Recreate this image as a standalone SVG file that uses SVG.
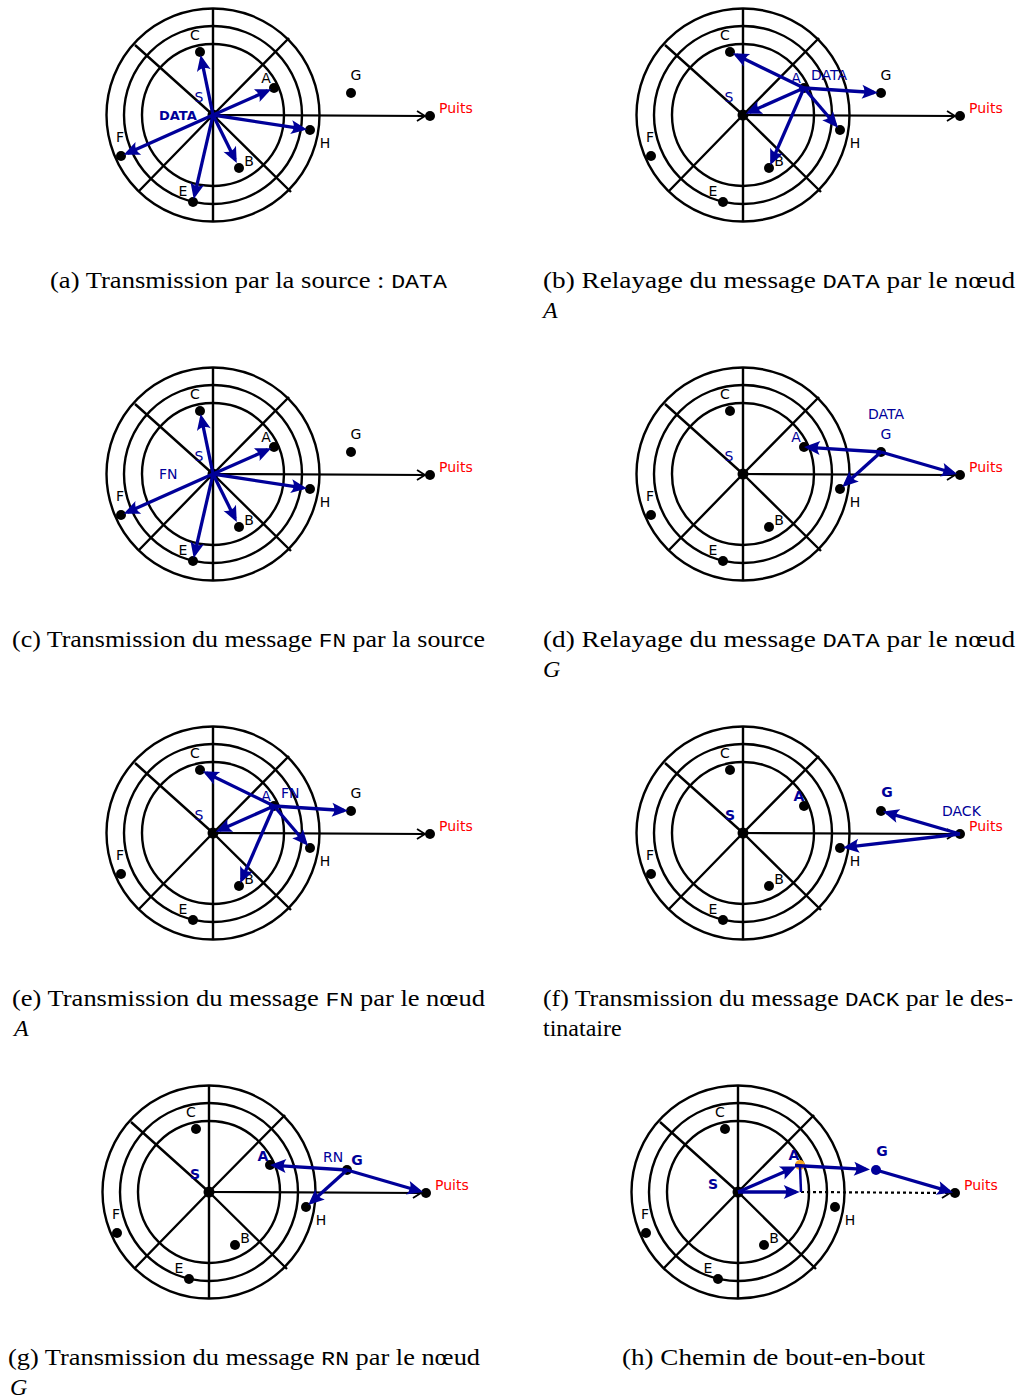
<svg xmlns="http://www.w3.org/2000/svg" xmlns:xlink="http://www.w3.org/1999/xlink" width="1020" height="1399" viewBox="0 0 1020 1399">
<style>
.ring{fill:none;stroke:#000;stroke-width:2.4}
.hl{stroke:#000;stroke-width:2.2;fill:none;marker-end:url(#chev)}
.dl{stroke:#000;stroke-width:2.2;fill:none;stroke-dasharray:3 3;marker-end:url(#chev)}
.dot{fill:#000}
.e{stroke:#000099;stroke-width:3.3;fill:none;marker-end:url(#ah)}
.ep{stroke:#000099;stroke-width:2.5;fill:none}
.l{font-family:"DejaVu Sans",sans-serif;font-size:14px;fill:#000;text-anchor:middle}
.bl{fill:#000099}
.bd{font-weight:bold}
.st{text-anchor:start}
.pu{fill:#ff0000;text-anchor:start}
.cap{font-family:"Liberation Serif",serif;font-size:24px;fill:#000}
.tt{font-family:"Liberation Mono",monospace;font-size:21px}
.it{font-style:italic}
</style>
<defs>
<marker id="ah" viewBox="-14 -8 19 16" refX="0" refY="0" markerWidth="19" markerHeight="16" markerUnits="userSpaceOnUse" orient="auto" overflow="visible">
<path d="M4,0 L-12,-7 Q-7,0 -12,7 Z" fill="#000099"/>
</marker>
<marker id="chev" viewBox="-10 -7 11 14" refX="0" refY="0" markerWidth="11" markerHeight="14" markerUnits="userSpaceOnUse" orient="auto" overflow="visible">
<path d="M-8,-5 L0,0 L-8,5" fill="none" stroke="#000" stroke-width="1.8"/>
</marker>
<g id="grid">
<circle class="ring" r="71"/>
<circle class="ring" r="89"/>
<circle class="ring" r="106.5"/>
<path class="ring" d="M0,-106.5V107M0,0L76,-77M0,0L-78,-70M0,0L-74,76M0,0L78,77"/>
</g>
</defs>

<!-- (a) -->
<g id="panel-a" transform="translate(213,115)">
<use xlink:href="#grid"/>
<line class="hl" x1="0" y1="0" x2="212" y2="1"/>
<g id="a-S"><circle class="dot" r="5.5"/><text class="l bl" x="-14" y="-13">S</text><text class="l bl bd st" x="-54" y="5" style="font-size:13px">DATA</text></g>
<g id="a-C"><circle class="dot" cx="-13" cy="-63" r="5"/><text class="l" x="-18" y="-75">C</text></g>
<g id="a-A"><circle class="dot" cx="61" cy="-27" r="5"/><text class="l" x="53" y="-32">A</text></g>
<g id="a-G"><circle class="dot" cx="138" cy="-22" r="5"/><text class="l" x="143" y="-35">G</text></g>
<g id="a-H"><circle class="dot" cx="97" cy="15" r="5"/><text class="l" x="112" y="33">H</text></g>
<g id="a-B"><circle class="dot" cx="26" cy="53" r="5"/><text class="l" x="36" y="51">B</text></g>
<g id="a-E"><circle class="dot" cx="-20" cy="87" r="5"/><text class="l" x="-30" y="81">E</text></g>
<g id="a-F"><circle class="dot" cx="-92" cy="41" r="5"/><text class="l" x="-93" y="27">F</text></g>
<g id="a-P"><circle class="dot" cx="217" cy="1" r="5"/><text class="l pu" x="226" y="-2">Puits</text></g>
<g id="a-edges">
<line class="e" x1="0" y1="0" x2="-11.6" y2="-56.1"/>
<line class="e" x1="0" y1="0" x2="54.6" y2="-24.2"/>
<line class="e" x1="0" y1="0" x2="90.1" y2="13.9"/>
<line class="e" x1="0" y1="0" x2="22" y2="44.5"/>
<line class="e" x1="0" y1="0" x2="-18.4" y2="80.2"/>
<line class="e" x1="0" y1="0" x2="-85.6" y2="38.2"/>
</g>
</g>

<!-- (b) -->
<g id="panel-b" transform="translate(743,115)">
<use xlink:href="#grid"/>
<line class="hl" x1="0" y1="0" x2="212" y2="1"/>
<g id="b-S"><circle class="dot" r="5.5"/><text class="l bl" x="-14" y="-13">S</text></g>
<g id="b-C"><circle class="dot" cx="-13" cy="-63" r="5"/><text class="l" x="-18" y="-75">C</text></g>
<g id="b-A"><circle class="dot" cx="61" cy="-27" r="5"/><text class="l bl" x="53" y="-32">A</text><text class="l bl st" x="68" y="-35">DATA</text></g>
<g id="b-G"><circle class="dot" cx="138" cy="-22" r="5"/><text class="l" x="143" y="-35">G</text></g>
<g id="b-H"><circle class="dot" cx="97" cy="15" r="5"/><text class="l" x="112" y="33">H</text></g>
<g id="b-B"><circle class="dot" cx="26" cy="53" r="5"/><text class="l" x="36" y="51">B</text></g>
<g id="b-E"><circle class="dot" cx="-20" cy="87" r="5"/><text class="l" x="-30" y="81">E</text></g>
<g id="b-F"><circle class="dot" cx="-92" cy="41" r="5"/><text class="l" x="-93" y="27">F</text></g>
<g id="b-P"><circle class="dot" cx="217" cy="1" r="5"/><text class="l pu" x="226" y="-2">Puits</text></g>
<g id="b-edges">
<line class="e" x1="61" y1="-27" x2="-6.7" y2="-59.9"/>
<line class="e" x1="61" y1="-27" x2="6.4" y2="-2.8"/>
<line class="e" x1="61" y1="-27" x2="28.8" y2="46.6"/>
<line class="e" x1="61" y1="-27" x2="92.4" y2="9.7"/>
<line class="e" x1="61" y1="-27" x2="131" y2="-22.5"/>
</g>
</g>

<!-- (c) -->
<g id="panel-c" transform="translate(213,474)">
<use xlink:href="#grid"/>
<line class="hl" x1="0" y1="0" x2="212" y2="1"/>
<g id="c-S"><circle class="dot" r="5.5"/><text class="l bl" x="-14" y="-13">S</text><text class="l bl st" x="-54" y="5">FN</text></g>
<g id="c-C"><circle class="dot" cx="-13" cy="-63" r="5"/><text class="l" x="-18" y="-75">C</text></g>
<g id="c-A"><circle class="dot" cx="61" cy="-27" r="5"/><text class="l" x="53" y="-32">A</text></g>
<g id="c-G"><circle class="dot" cx="138" cy="-22" r="5"/><text class="l" x="143" y="-35">G</text></g>
<g id="c-H"><circle class="dot" cx="97" cy="15" r="5"/><text class="l" x="112" y="33">H</text></g>
<g id="c-B"><circle class="dot" cx="26" cy="53" r="5"/><text class="l" x="36" y="51">B</text></g>
<g id="c-E"><circle class="dot" cx="-20" cy="87" r="5"/><text class="l" x="-30" y="81">E</text></g>
<g id="c-F"><circle class="dot" cx="-92" cy="41" r="5"/><text class="l" x="-93" y="27">F</text></g>
<g id="c-P"><circle class="dot" cx="217" cy="1" r="5"/><text class="l pu" x="226" y="-2">Puits</text></g>
<g id="c-edges">
<line class="e" x1="0" y1="0" x2="-11.6" y2="-56.1"/>
<line class="e" x1="0" y1="0" x2="54.6" y2="-24.2"/>
<line class="e" x1="0" y1="0" x2="90.1" y2="13.9"/>
<line class="e" x1="0" y1="0" x2="22" y2="44.5"/>
<line class="e" x1="0" y1="0" x2="-18.4" y2="80.2"/>
<line class="e" x1="0" y1="0" x2="-85.6" y2="38.2"/>
</g>
</g>

<!-- (d) -->
<g id="panel-d" transform="translate(743,474)">
<use xlink:href="#grid"/>
<line class="hl" x1="0" y1="0" x2="212" y2="1"/>
<g id="d-S"><circle class="dot" r="5.5"/><text class="l bl" x="-14" y="-13">S</text></g>
<g id="d-C"><circle class="dot" cx="-13" cy="-63" r="5"/><text class="l" x="-18" y="-75">C</text></g>
<g id="d-A"><circle class="dot" cx="61" cy="-27" r="5"/><text class="l bl" x="53" y="-32">A</text></g>
<g id="d-G"><circle class="dot" cx="138" cy="-22" r="5"/><text class="l bl" x="143" y="-35">G</text><text class="l bl" x="143" y="-55">DATA</text></g>
<g id="d-H"><circle class="dot" cx="97" cy="15" r="5"/><text class="l" x="112" y="33">H</text></g>
<g id="d-B"><circle class="dot" cx="26" cy="53" r="5"/><text class="l" x="36" y="51">B</text></g>
<g id="d-E"><circle class="dot" cx="-20" cy="87" r="5"/><text class="l" x="-30" y="81">E</text></g>
<g id="d-F"><circle class="dot" cx="-92" cy="41" r="5"/><text class="l" x="-93" y="27">F</text></g>
<g id="d-P"><circle class="dot" cx="217" cy="1" r="5"/><text class="l pu" x="226" y="-2">Puits</text></g>
<g id="d-edges">
<line class="e" x1="138" y1="-22" x2="65" y2="-26.7"/>
<line class="e" x1="138" y1="-22" x2="102.2" y2="10.3"/>
<line class="e" x1="138" y1="-22" x2="210.3" y2="-1"/>
</g>
</g>

<!-- (e) -->
<g id="panel-e" transform="translate(213,833)">
<use xlink:href="#grid"/>
<line class="hl" x1="0" y1="0" x2="212" y2="1"/>
<g id="e-S"><circle class="dot" r="5.5"/><text class="l bl" x="-14" y="-13">S</text></g>
<g id="e-C"><circle class="dot" cx="-13" cy="-63" r="5"/><text class="l" x="-18" y="-75">C</text></g>
<g id="e-A"><circle class="dot" cx="61" cy="-27" r="5"/><text class="l bl" x="53" y="-32">A</text><text class="l bl st" x="68" y="-35">FN</text></g>
<g id="e-G"><circle class="dot" cx="138" cy="-22" r="5"/><text class="l" x="143" y="-35">G</text></g>
<g id="e-H"><circle class="dot" cx="97" cy="15" r="5"/><text class="l" x="112" y="33">H</text></g>
<g id="e-B"><circle class="dot" cx="26" cy="53" r="5"/><text class="l" x="36" y="51">B</text></g>
<g id="e-E"><circle class="dot" cx="-20" cy="87" r="5"/><text class="l" x="-30" y="81">E</text></g>
<g id="e-F"><circle class="dot" cx="-92" cy="41" r="5"/><text class="l" x="-93" y="27">F</text></g>
<g id="e-P"><circle class="dot" cx="217" cy="1" r="5"/><text class="l pu" x="226" y="-2">Puits</text></g>
<g id="e-edges">
<line class="e" x1="61" y1="-27" x2="-6.7" y2="-59.9"/>
<line class="e" x1="61" y1="-27" x2="6.4" y2="-2.8"/>
<line class="e" x1="61" y1="-27" x2="28.8" y2="46.6"/>
<line class="e" x1="61" y1="-27" x2="92.4" y2="9.7"/>
<line class="e" x1="61" y1="-27" x2="131" y2="-22.5"/>
</g>
</g>

<!-- (f) -->
<g id="panel-f" transform="translate(743,833)">
<use xlink:href="#grid"/>
<line class="hl" x1="0" y1="0" x2="212" y2="1"/>
<g id="f-S"><circle class="dot" r="5.5"/><text class="l bl bd" x="-13" y="-13">S</text></g>
<g id="f-C"><circle class="dot" cx="-13" cy="-63" r="5"/><text class="l" x="-18" y="-75">C</text></g>
<g id="f-A"><circle class="dot" cx="61" cy="-27" r="5"/><text class="l bl bd" x="56" y="-32">A</text></g>
<g id="f-G"><circle class="dot" cx="138" cy="-22" r="5"/><text class="l bl bd" x="144" y="-36">G</text></g>
<g id="f-H"><circle class="dot" cx="97" cy="15" r="5"/><text class="l" x="112" y="33">H</text></g>
<g id="f-B"><circle class="dot" cx="26" cy="53" r="5"/><text class="l" x="36" y="51">B</text></g>
<g id="f-E"><circle class="dot" cx="-20" cy="87" r="5"/><text class="l" x="-30" y="81">E</text></g>
<g id="f-F"><circle class="dot" cx="-92" cy="41" r="5"/><text class="l" x="-93" y="27">F</text></g>
<g id="f-P"><circle class="dot" cx="217" cy="1" r="5"/><text class="l pu" x="226" y="-2">Puits</text><text class="l bl st" x="199" y="-17">DACK</text></g>
<g id="f-edges">
<line class="e" x1="217" y1="1" x2="143.8" y2="-20.3"/>
<line class="e" x1="217" y1="1" x2="104" y2="14.2"/>
</g>
</g>

<!-- (g) -->
<g id="panel-g" transform="translate(209,1192)">
<use xlink:href="#grid"/>
<line class="hl" x1="0" y1="0" x2="212" y2="1"/>
<g id="g-S"><circle class="dot" r="5.5"/><text class="l bl bd" x="-14" y="-13">S</text></g>
<g id="g-C"><circle class="dot" cx="-13" cy="-63" r="5"/><text class="l" x="-18" y="-75">C</text></g>
<g id="g-A"><circle class="dot" cx="61" cy="-27" r="5"/><text class="l bl bd" x="54" y="-31">A</text></g>
<g id="g-G"><circle class="dot" cx="138" cy="-22" r="5"/><text class="l bl bd" x="148" y="-27">G</text><text class="l bl st" x="114" y="-30">RN</text></g>
<g id="g-H"><circle class="dot" cx="97" cy="15" r="5"/><text class="l" x="112" y="33">H</text></g>
<g id="g-B"><circle class="dot" cx="26" cy="53" r="5"/><text class="l" x="36" y="51">B</text></g>
<g id="g-E"><circle class="dot" cx="-20" cy="87" r="5"/><text class="l" x="-30" y="81">E</text></g>
<g id="g-F"><circle class="dot" cx="-92" cy="41" r="5"/><text class="l" x="-93" y="27">F</text></g>
<g id="g-P"><circle class="dot" cx="217" cy="1" r="5"/><text class="l pu" x="226" y="-2">Puits</text></g>
<g id="g-edges">
<line class="e" x1="138" y1="-22" x2="65" y2="-26.7"/>
<line class="e" x1="138" y1="-22" x2="102.2" y2="10.3"/>
<line class="e" x1="138" y1="-22" x2="210.3" y2="-1"/>
</g>
</g>

<!-- (h) -->
<g id="panel-h" transform="translate(738,1192)">
<use xlink:href="#grid"/>
<line class="dl" x1="63" y1="0" x2="212" y2="1"/>
<g id="h-S"><circle class="dot" r="5.5"/><text class="l bl bd" x="-25" y="-3">S</text></g>
<g id="h-C"><circle class="dot" cx="-13" cy="-63" r="5"/><text class="l" x="-18" y="-75">C</text></g>
<g id="h-A"><circle cx="62" cy="-27" r="5" fill="#f5a623"/><text class="l bl bd" x="56" y="-32">A</text></g>
<g id="h-G"><circle cx="138" cy="-22" r="5" fill="#000099"/><text class="l bl bd" x="144" y="-36">G</text></g>
<g id="h-H"><circle class="dot" cx="97" cy="15" r="5"/><text class="l" x="112" y="33">H</text></g>
<g id="h-B"><circle class="dot" cx="26" cy="53" r="5"/><text class="l" x="36" y="51">B</text></g>
<g id="h-E"><circle class="dot" cx="-20" cy="87" r="5"/><text class="l" x="-30" y="81">E</text></g>
<g id="h-F"><circle class="dot" cx="-92" cy="41" r="5"/><text class="l" x="-93" y="27">F</text></g>
<g id="h-P"><circle class="dot" cx="217" cy="1" r="5"/><text class="l pu" x="226" y="-2">Puits</text></g>
<g id="h-edges">
<line class="e" x1="0" y1="0" x2="54.7" y2="-23.8"/>
<line class="e" x1="0" y1="0" x2="57.7" y2="0"/>
<line class="ep" x1="63" y1="0" x2="62" y2="-26"/>
<line class="e" x1="57" y1="-26.5" x2="128" y2="-22.7"/>
<line class="e" x1="138" y1="-22" x2="211.2" y2="-0.6"/>
</g>
</g>

<!-- captions -->
<g id="captions">
<text class="cap" x="50" y="288" textLength="397" lengthAdjust="spacingAndGlyphs">(a) Transmission par la source : <tspan class="tt">DATA</tspan></text>
<text class="cap" x="543" y="288" textLength="472" lengthAdjust="spacingAndGlyphs">(b) Relayage du message <tspan class="tt">DATA</tspan> par le nœud</text>
<text class="cap it" x="543" y="318">A</text>
<text class="cap" x="12" y="647" textLength="473" lengthAdjust="spacingAndGlyphs">(c) Transmission du message <tspan class="tt">FN</tspan> par la source</text>
<text class="cap" x="543" y="647" textLength="472" lengthAdjust="spacingAndGlyphs">(d) Relayage du message <tspan class="tt">DATA</tspan> par le nœud</text>
<text class="cap it" x="543" y="677">G</text>
<text class="cap" x="12" y="1006" textLength="473" lengthAdjust="spacingAndGlyphs">(e) Transmission du message <tspan class="tt">FN</tspan> par le nœud</text>
<text class="cap it" x="14" y="1036">A</text>
<text class="cap" x="543" y="1006" textLength="470" lengthAdjust="spacingAndGlyphs">(f) Transmission du message <tspan class="tt">DACK</tspan> par le des-</text>
<text class="cap" x="543" y="1036">tinataire</text>
<text class="cap" x="8" y="1365" textLength="472" lengthAdjust="spacingAndGlyphs">(g) Transmission du message <tspan class="tt">RN</tspan> par le nœud</text>
<text class="cap it" x="10" y="1395">G</text>
<text class="cap" x="622" y="1365" textLength="303" lengthAdjust="spacingAndGlyphs">(h) Chemin de bout-en-bout</text>
</g>
</svg>
